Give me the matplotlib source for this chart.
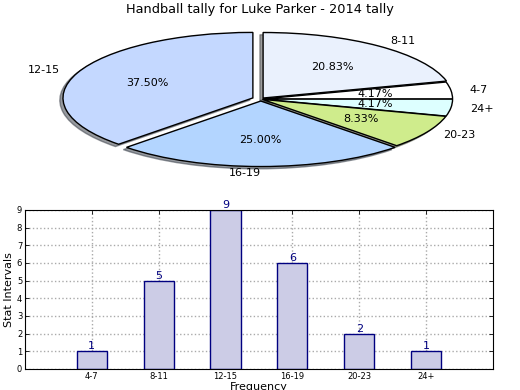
import matplotlib
matplotlib.use("Agg")
import matplotlib.pyplot as plt

# Pie data (clockwise from top)
pie_labels = ['8-11', '4-7', '24+', '20-23', '16-19', '12-15']
pie_values = [5, 1, 1, 2, 6, 9]
pie_colors = ['#EAF1FD', '#FFFFFF', '#DDFFFF', '#CFEC8C', '#B3D5FF', '#C4D8FF']
pie_explode = [0.02, 0.01, 0.01, 0.01, 0.03, 0.045]

# Bar data
bar_categories = ['4-7', '8-11', '12-15', '16-19', '20-23', '24+']
bar_values = [1, 5, 9, 6, 2, 1]

title = 'Handball tally for Luke Parker - 2014 tally'

fig = plt.figure(figsize=(5.2, 3.9), dpi=100)

ax1 = fig.add_axes([0.045, 0.536, 0.913, 0.42])
wedges, texts, autotexts = ax1.pie(pie_values, labels=pie_labels, colors=pie_colors,
                                   explode=pie_explode, autopct='%1.2f%%',
                                   shadow={'ox': -0.012, 'oy': -0.025, 'shade': 0.75},
                                   startangle=90, counterclock=False,
                                   wedgeprops=dict(edgecolor='black', linewidth=1))
for t in texts:
    t.set_fontsize(8)
for t in autotexts:
    t.set_fontsize(8)
ax1.set_aspect('auto')
ax1.set_xlim(-1.25, 1.25)
ax1.set_ylim(-1.25, 1.25)
fig.text(0.5, 0.976, title, ha='center', va='center', fontsize=9.3)

ax2 = fig.add_axes([0.048, 0.054, 0.9, 0.408])
xs = list(range(1, len(bar_categories) + 1))
bars = ax2.bar(xs, bar_values, width=0.45, color='#CCCCE6', edgecolor='#000080', linewidth=1, zorder=2)
for x, v in zip(xs, bar_values):
    ax2.text(x, v, str(v), ha='center', va='bottom', color='#000080', fontsize=8, zorder=3)
ax2.set_xlim(0, 7)
ax2.set_ylim(0, 9)
ax2.set_xticks(xs)
ax2.set_xticklabels(bar_categories)
ax2.set_yticks(range(0, 10))
ax2.tick_params(direction='in', labelsize=6, top=True, right=True, length=3, width=0.6, pad=2)
ax2.grid(True, linestyle=':', color='#AAAAAA', linewidth=1, zorder=0)
ax2.set_axisbelow(True)
ax2.set_ylabel('Stat Intervals', fontsize=8, labelpad=2)
ax2.set_xlabel('Frequency', fontsize=8, labelpad=1)

fig.savefig('out.png', dpi=100)
